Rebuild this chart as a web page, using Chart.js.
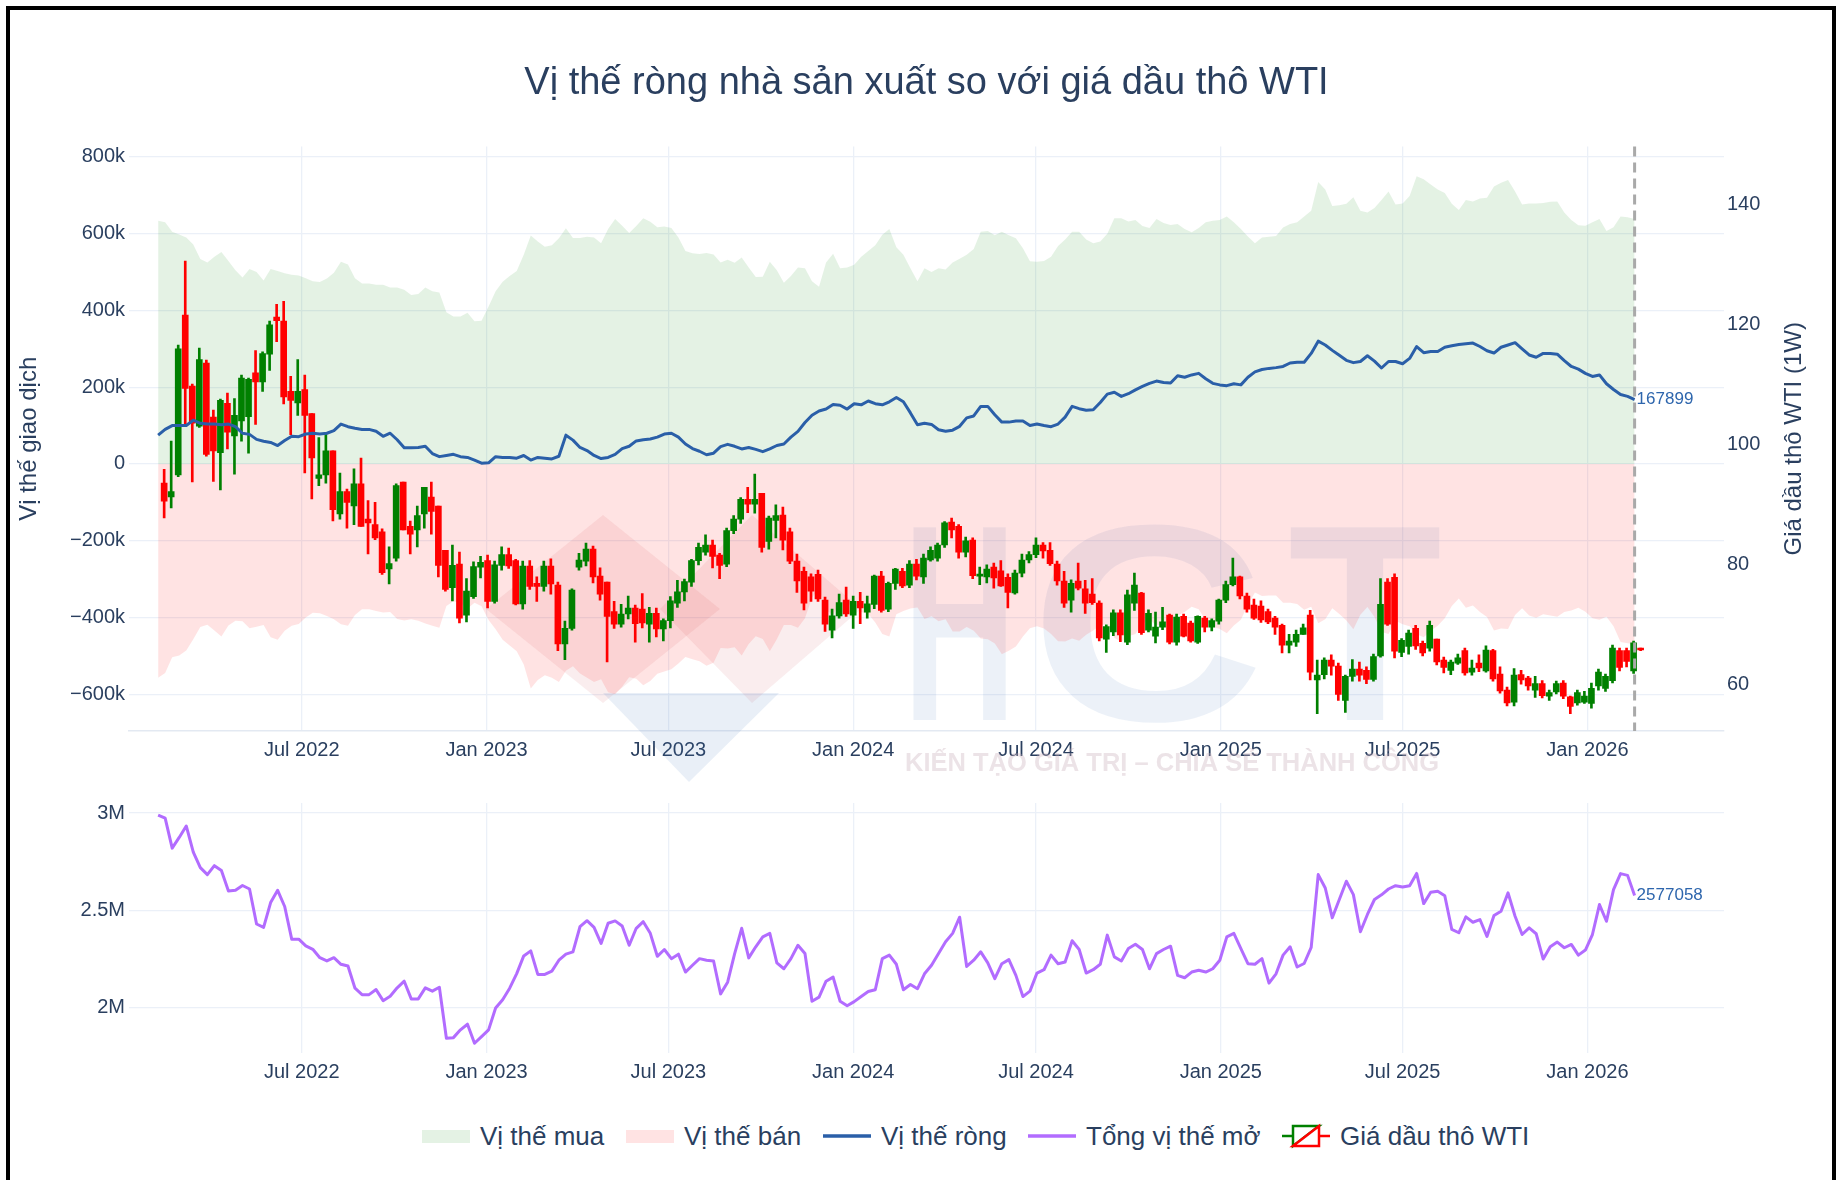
<!DOCTYPE html>
<html lang="vi">
<head>
<meta charset="utf-8">
<title>Vị thế ròng nhà sản xuất so với giá dầu thô WTI</title>
<script src="https://cdn.jsdelivr.net/npm/chart.js@4.4.1/dist/chart.umd.min.js"></script>
<style>
  html, body { margin: 0; padding: 0; background: #fff; }
  body { width: 1836px; height: 1180px; position: relative; overflow: hidden; font-family: "Liberation Sans", Arial, sans-serif; }
  #topChart { position: absolute; left: 0; top: 0; }
  #oiChart { position: absolute; left: 0; top: 780px; }
  .frame { position: absolute; left: 6px; top: 6px; width: 1830px; height: 1174px; box-sizing: border-box; border: 4px solid #000; border-bottom: none; pointer-events: none; }
  .legend { position: absolute; left: 0; top: 1119px; width: 1836px; height: 34px; }
  .legend .item { position: absolute; top: 0; height: 34px; display: flex; align-items: center; white-space: nowrap; color: #2a3f5f; font-size: 26px; }
  .legend .item canvas { margin-right: 9px; }
</style>
</head>
<body>
<canvas id="topChart" width="1836" height="790"></canvas>
<canvas id="oiChart" width="1836" height="330"></canvas>
<div class="legend" id="legend"></div>
<div class="frame"></div>
<script>
`use strict`

// ---- dates ----
const firstReport = '2022-02-08';   // first weekly COT report (Tuesday)
const firstCandle = '2022-02-14';   // first weekly WTI candle (Monday)
const xRange = ['2022-01-10', '2026-05-17'];
const tickDates = ['2022-07-01', '2023-01-01', '2023-07-01', '2024-01-01', '2024-07-01', '2025-01-01', '2025-07-01', '2026-01-01'];
const tickLabels = ['Jul 2022', 'Jan 2023', 'Jul 2023', 'Jan 2024', 'Jul 2024', 'Jan 2025', 'Jul 2025', 'Jan 2026'];

// ---- producer positions (thousand contracts) ----
const longPos = [634,630,605,598,590,572,534,525,540,552,529,505,486,508,500,478,508,503,497,493,491,484,476,474,483,498,527,520,484,470,470,467,467,460,460,454,440,443,460,450,447,395,384,384,
  394,372,373,410,450,475,490,503,545,595,580,566,570,588,614,589,589,592,590,575,612,638,621,602,620,640,631,617,619,615,590,555,549,547,550,546,525,532,524,538,512,487,488,
  527,505,472,490,512,510,476,462,525,548,510,512,519,540,555,570,597,612,565,545,510,476,510,500,510,507,525,535,545,560,605,607,596,605,596,588,562,528,527,529,540,
  568,585,605,605,585,575,580,600,640,640,632,636,620,615,638,628,623,625,612,604,615,630,634,636,645,630,612,593,575,590,592,594,616,625,630,645,660,735,715,672,674,678,695,660,
  655,667,688,710,676,679,698,750,742,728,715,706,678,662,688,684,692,694,723,733,740,710,676,679,679,680,683,684,655,636,622,621,630,638,607,617,645,643,638];

const shortPos = [-557,-545,-504,-499,-486,-457,-425,-419,-434,-450,-421,-409,-410,-428,-424,-420,-452,-458,-435,-422,-417,-400,-388,-389,-396,-405,-418,-422,-394,-379,-379,-383,-387,-386,-404,-408,-405,-409,-416,-422,-427,-370,-358,-363,
  -377,-362,-371,-407,-431,-458,-473,-488,-523,-585,-563,-551,-557,-568,-539,-527,-546,-557,-568,-561,-595,-600,-581,-556,-560,-577,-566,-547,-541,-535,-520,-503,-509,-514,-526,-518,-480,-481,-478,-499,-469,-449,-456,
  -488,-457,-420,-420,-427,-402,-349,-324,-382,-393,-357,-369,-362,-386,-391,-413,-443,-450,-392,-383,-377,-374,-404,-397,-410,-405,-437,-437,-425,-435,-455,-457,-468,-496,-487,-476,-450,-428,-423,-429,-443,
  -462,-463,-455,-461,-445,-434,-420,-418,-453,-464,-449,-443,-418,-405,-422,-416,-412,-395,-386,-372,-379,-408,-424,-430,-441,-421,-406,-367,-335,-344,-343,-343,-362,-362,-365,-380,-372,-415,-405,-376,-391,-408,-431,-393,
  -373,-399,-438,-443,-409,-418,-423,-444,-452,-435,-422,-402,-370,-351,-375,-369,-386,-399,-434,-429,-430,-394,-376,-395,-401,-392,-395,-398,-386,-382,-375,-385,-402,-406,-398,-423,-464,-467,-470];

const netPos = [75,90,100,100,100,114,106,104,104,102,104,97,80,77,64,59,56,48,61,72,71,78,80,78,80,87,104,97,93,90,90,85,72,80,63,42,42,43,46,27,19,22,25,19,
  17,10,2,3,19,17,17,15,22,10,17,15,13,20,75,62,43,35,22,14,17,25,40,46,60,63,65,70,78,80,70,52,40,33,24,28,45,51,46,39,43,38,32,
  39,48,52,70,85,108,127,138,143,155,153,143,157,154,164,157,154,162,173,162,133,102,106,103,89,85,88,98,120,125,150,150,128,109,109,112,112,100,104,100,97,
  104,122,150,144,140,141,160,182,187,176,183,193,202,210,216,212,211,230,226,232,236,222,210,206,204,209,206,226,240,246,249,251,254,263,265,265,288,320,310,296,283,270,264,267,
  282,268,250,267,267,261,275,306,290,293,293,304,308,311,313,315,306,295,289,304,310,316,300,284,278,288,288,286,269,254,247,236,228,232,209,194,181,176,167.899];

// ---- open interest (million contracts) ----
const openInt = [2.99,2.974,2.82,2.875,2.934,2.80,2.72,2.684,2.73,2.705,2.60,2.603,2.628,2.61,2.43,2.413,2.54,2.603,2.52,2.352,2.352,2.318,2.30,2.257,2.24,2.257,2.223,2.214,2.10,2.067,2.067,2.093,2.036,2.059,2.102,2.136,2.045,2.045,2.102,2.085,2.105,1.843,1.846,1.886,1.915,1.817,1.851,1.886,1.998,2.041,2.10,2.175,2.266,2.292,2.171,2.171,
  2.188,2.244,2.275,2.287,2.416,2.447,2.413,2.33,2.434,2.446,2.42,2.321,2.408,2.442,2.382,2.264,2.299,2.252,2.275,2.183,2.218,2.252,2.244,2.24,2.071,2.131,2.278,2.408,2.256,2.313,2.364,2.382,2.23,2.20,2.252,2.321,2.278,2.033,2.054,2.136,2.157,2.033,2.01,2.031,2.057,2.083,2.092,2.252,2.27,2.223,2.092,2.119,2.097,2.174,2.218,2.278,2.339,2.382,2.465,2.212,2.244,2.287,2.23,2.149,2.226,2.247,2.166,2.057,2.085,2.178,2.195,2.27,2.226,2.235,2.344,2.299,2.178,2.195,2.223,2.373,2.261,2.24,2.304,2.326,2.299,2.20,2.278,2.299,2.316,2.166,2.154,2.183,2.192,2.183,2.20,2.244,2.364,2.382,2.304,2.226,2.223,2.252,2.126,2.174,2.27,2.313,2.209,
  2.227,2.31,2.684,2.615,2.462,2.556,2.65,2.581,2.39,2.479,2.556,2.58,2.61,2.627,2.62,2.627,2.69,2.535,2.593,2.598,2.575,2.402,2.385,2.467,2.439,2.453,2.366,2.474,2.496,2.59,2.47,2.376,2.41,2.38,2.25,2.313,2.337,2.308,2.325,2.27,2.296,2.376,2.53,2.444,2.607,2.689,2.68,2.577058];

// ---- WTI weekly candles (USD) ----
const wtiOpen = [93.5,91.2,94.9,121.5,109.7,103.0,113.5,104.5,98.6,106.8,101.4,103.9,104.6,111.9,110.4,115.0,121.2,120.5,108.8,106.9,
  109.1,105.1,94.3,94.9,98.9,88.4,92.1,89.7,93.4,87.5,86.6,85.4,79.2,81.0,93.7,86.3,85.7,88.4,91.2,89.7,
  82.3,76.1,80.0,71.5,74.6,79.5,80.6,73.8,79.8,81.6,80.6,73.4,79.7,76.8,76.3,79.7,76.5,66.7,69.3,79.5,
  80.5,82.5,78.0,77.0,72.1,70.0,71.7,72.7,72.5,70.0,71.8,69.2,70.6,73.5,75.4,77.0,80.6,82.0,83.2,81.5,
  80.0,85.6,87.5,90.8,90.0,91.8,83.8,87.3,88.2,85.4,80.5,78.8,77.9,78.3,74.0,69.0,71.4,74.0,71.5,73.8,
  72.0,73.3,78.0,72.5,76.8,78.8,76.5,80.0,77.9,80.7,81.0,83.2,87.0,86.3,82.0,84.0,78.0,77.9,79.5,78.9,
  77.8,75.2,78.5,80.7,81.6,83.2,82.3,80.0,77.2,74.0,77.2,75.9,75.0,73.5,67.5,68.7,71.9,67.0,73.5,75.2,
  69.0,68.0,69.5,71.5,67.0,71.3,70.2,67.0,71.0,69.5,70.5,74.0,76.6,77.9,74.7,73.2,73.0,72.1,71.0,69.8,
  66.5,67.0,68.3,71.5,60.7,61.6,64.0,63.0,57.3,61.3,62.5,62.3,60.8,64.7,77.0,77.8,65.3,66.3,69.3,66.8,
  66.0,67.5,64.0,62.3,63.5,65.6,62.0,63.5,62.2,65.6,61.7,59.0,57.0,61.6,61.0,59.0,60.1,58.0,58.7,60.2,
  57.9,56.9,57.0,56.8,59.7,59.3,60.6,65.6,65.6,62.2,66.0];
const wtiHigh = [95.8,100.5,116.5,130.5,110.0,116.0,114.0,105.7,107.5,108.5,107.6,111.5,111.0,115.6,115.4,120.5,123.3,123.8,111.3,114.1,
  111.5,105.1,101.1,101.7,98.9,95.2,92.5,95.9,97.7,90.6,90.3,85.9,82.9,93.4,93.7,87.2,89.7,92.8,93.7,89.7,
  82.3,83.2,82.0,77.6,80.4,81.3,81.5,80.5,82.9,82.7,80.8,80.5,80.6,77.9,80.5,80.9,77.0,70.5,75.9,81.8,
  83.5,83.0,79.4,77.0,73.8,73.3,74.7,73.2,75.1,72.8,72.7,70.9,74.6,77.3,77.5,80.8,83.5,84.9,84.0,81.8,
  86.0,88.1,91.1,92.8,95.0,91.8,88.0,89.9,89.5,86.0,81.7,79.5,78.4,79.0,74.5,72.5,75.0,76.2,74.7,75.3,
  74.7,78.2,78.8,77.0,79.3,79.3,80.6,80.8,81.7,82.9,83.5,87.1,87.7,86.6,84.5,84.4,79.5,79.9,80.2,80.6,
  78.4,79.0,81.7,82.1,84.4,83.6,83.6,80.5,78.8,77.4,80.2,77.3,77.6,73.9,69.9,72.4,72.4,75.7,78.5,75.3,
  72.4,72.0,72.8,71.7,71.7,71.7,70.5,71.4,71.3,70.9,74.2,77.2,81.0,78.0,75.2,74.2,73.9,72.5,71.3,70.0,
  68.3,69.0,70.0,72.3,64.0,64.4,64.9,63.5,61.5,64.1,63.7,62.9,65.0,77.6,77.6,78.4,67.6,69.0,69.8,67.2,
  70.5,67.5,64.5,64.0,65.0,66.0,64.0,64.9,66.4,65.8,62.9,59.5,62.6,62.3,61.3,61.3,60.6,59.0,60.5,60.6,
  58.0,59.0,58.8,60.2,62.5,61.7,66.5,66.0,66.0,67.2,66.0];
const wtiLow = [87.7,89.4,94.6,103.4,93.7,102.8,98.0,93.8,92.4,99.2,95.0,100.5,98.5,103.3,108.8,112.3,117.1,106.7,101.6,104.8,
  95.2,90.9,93.1,93.5,87.2,87.5,86.0,86.6,86.3,81.7,84.1,78.3,76.7,80.5,85.7,81.7,82.9,86.0,85.0,77.9,
  75.5,73.9,70.2,70.4,74.3,77.7,72.7,73.5,79.0,79.3,73.2,72.5,75.8,73.8,75.5,75.0,65.6,64.1,69.0,79.0,
  79.7,76.9,74.0,63.7,69.3,69.5,70.9,67.0,69.4,67.0,67.9,67.2,69.4,72.8,73.9,76.3,79.9,81.5,79.4,77.6,
  79.6,85.1,86.8,88.6,88.5,82.0,82.5,84.4,82.4,80.1,75.3,72.4,73.8,73.8,68.8,67.7,71.0,71.3,69.3,70.1,
  71.0,72.6,72.0,72.1,75.8,76.1,76.1,77.4,76.8,80.5,80.5,82.8,84.4,81.0,81.2,77.6,76.6,76.9,76.0,76.3,
  72.7,75.0,77.9,80.2,81.1,81.0,79.8,76.5,72.8,72.0,75.7,71.8,73.3,67.2,65.3,68.1,67.1,66.6,72.3,68.3,
  68.7,66.9,69.1,66.7,66.5,67.9,67.0,66.8,68.7,68.9,70.0,73.6,76.4,74.2,72.0,70.8,70.3,70.1,68.3,65.2,
  65.2,66.3,68.3,60.7,55.1,60.9,61.5,57.3,55.3,60.5,60.5,60.1,60.5,64.5,69.8,64.4,64.6,65.0,65.8,64.7,
  65.5,63.2,61.9,61.6,63.3,61.5,61.5,62.1,62.0,60.5,58.5,56.4,56.4,60.0,59.0,57.8,57.7,57.3,58.4,57.6,
  55.1,56.5,56.8,56.0,59.0,58.8,60.2,62.2,62.9,61.8,65.6];
const wtiClose = [90.5,92.1,115.9,109.3,103.5,114.1,98.3,98.9,107.3,102.0,104.8,111.0,110.8,110.4,115.1,119.9,120.6,107.9,107.3,108.8,
  104.8,97.7,94.9,98.9,89.1,92.1,90.3,93.4,86.3,86.9,84.4,78.6,80.1,93.1,85.7,85.0,88.1,92.8,88.8,79.8,
  75.8,79.8,71.0,75.5,79.6,80.3,73.8,79.9,81.6,79.7,73.4,79.7,76.3,76.3,79.7,76.7,66.7,69.3,75.7,80.7,
  82.5,77.9,75.0,71.3,70.0,71.7,72.7,70.1,70.2,71.8,69.2,70.6,73.9,75.4,77.1,80.6,82.8,83.2,81.3,79.8,
  85.6,87.5,90.8,90.0,90.8,82.8,87.7,88.1,84.0,80.5,77.2,73.5,75.5,74.2,70.0,71.4,73.6,71.7,73.8,72.7,
  73.4,78.0,72.3,76.8,79.2,76.4,80.0,78.0,81.0,82.3,83.2,86.9,85.7,82.0,83.9,78.1,78.3,79.2,77.7,76.4,
  75.3,78.5,80.7,81.6,83.2,82.2,80.1,77.2,73.5,76.8,76.0,73.5,73.6,67.7,69.6,71.9,68.2,74.9,76.5,68.6,
  71.8,69.5,70.4,67.0,71.2,68.0,67.2,71.3,69.5,70.6,74.0,76.6,77.9,74.7,72.5,71.0,70.7,70.4,69.5,66.5,
  67.2,68.3,69.4,62.0,61.5,64.0,63.0,58.3,61.3,62.5,61.5,60.8,64.6,73.3,70.0,65.5,67.3,68.5,66.4,65.2,
  69.8,63.7,62.8,63.7,64.4,61.9,62.7,62.7,65.7,60.9,58.9,56.9,61.5,60.7,59.7,60.1,58.1,58.6,60.1,58.0,
  56.3,58.6,58.0,59.3,62.0,61.3,66.0,62.8,63.8,66.9,65.7];

// ---- axis ticks ----
const posTicks = [-600, -400, -200, 0, 200, 400, 600, 800];
const priceTicks = [60, 80, 100, 120, 140];
const oiTicks = [2, 2.5, 3];

// ---------------------------------------------------------------
const fontFamily = '"Liberation Sans", Arial, sans-serif';
const textColor = '#2a3f5f';
const gridColor = '#ebf0f8';
Chart.defaults.font.family = fontFamily;
Chart.defaults.color = textColor;

const dayZero = Date.UTC(2022, 0, 1);
function dayNum(s) {
  const p = s.split('-');
  return (Date.UTC(+p[0], +p[1] - 1, +p[2]) - dayZero) / 86400000;
}
const reportDays = longPos.map((v, i) => dayNum(firstReport) + 7 * i);
const candleDays = wtiOpen.map((v, k) => dayNum(firstCandle) + 7 * k);
const tickDays = tickDates.map(dayNum);
const lastDay = reportDays[reportDays.length - 1];

const xAxis = (height, showBorder) => ({
  type: 'linear',
  min: dayNum(xRange[0]),
  max: dayNum(xRange[1]),
  offset: false,
  grid: { color: gridColor, lineWidth: 1.3, drawTicks: false, offset: false },
  border: { display: showBorder, color: '#e3e9f2', width: 1.5 },
  afterBuildTicks: (scale) => { scale.ticks = tickDays.map(v => ({ value: v })); },
  afterFit: (scale) => { scale.height = height; },
  ticks: {
    padding: 7,
    maxRotation: 0,
    font: { size: 20 },
    color: textColor,
    callback: (v) => tickLabels[tickDays.indexOf(v)]
  }
});

// candle colours
const upColor = '#008000';
const downColor = '#ff0000';
const candleColors = wtiClose.map((c, k) => c >= wtiOpen[k] ? upColor : downColor);

// value label at the last point of a series
const lastLabel = {
  id: 'lastLabel',
  afterDatasetsDraw(chart, args, opts) {
    const meta = chart.getDatasetMeta(opts.dataset);
    const pt = meta.data[meta.data.length - 1];
    const ctx = chart.ctx;
    ctx.save();
    ctx.font = '17px ' + fontFamily;
    ctx.fillStyle = opts.color;
    ctx.textAlign = 'left';
    ctx.textBaseline = 'middle';
    ctx.fillText(opts.text, pt.x + 2, pt.y);
    ctx.restore();
  }
};

// dashed marker at last report date + right axis title
const topDecor = {
  id: 'topDecor',
  afterDatasetsDraw(chart) {
    const ctx = chart.ctx;
    const area = chart.chartArea;
    const x = chart.scales.x.getPixelForValue(lastDay);
    ctx.save();
    ctx.strokeStyle = '#a9a9a9';
    ctx.lineWidth = 3;
    ctx.setLineDash([10, 6]);
    ctx.beginPath();
    ctx.moveTo(x, area.top);
    ctx.lineTo(x, area.bottom);
    ctx.stroke();
    ctx.restore();

    ctx.save();
    ctx.translate(1794, (area.top + area.bottom) / 2);
    ctx.rotate(-Math.PI / 2);
    ctx.font = '24px ' + fontFamily;
    ctx.fillStyle = textColor;
    ctx.textAlign = 'center';
    ctx.textBaseline = 'middle';
    ctx.fillText('Giá dầu thô WTI (1W)', 0, 0);
    ctx.restore();
  }
};

// faint HCT logo watermark
const watermark = {
  id: 'watermark',
  beforeDatasetsDraw(chart) {
    const ctx = chart.ctx;
    ctx.save();
    ctx.fillStyle = 'rgba(205,90,100,0.11)';
    ctx.beginPath();
    ctx.moveTo(486, 609); ctx.lineTo(603, 515); ctx.lineTo(720, 609); ctx.lineTo(603, 703); ctx.closePath();
    ctx.fill();
    ctx.beginPath();
    ctx.moveTo(660, 609); ctx.lineTo(752, 515); ctx.lineTo(861, 609); ctx.lineTo(752, 703); ctx.closePath();
    ctx.fill();
    ctx.fillStyle = 'rgba(70,120,190,0.12)';
    ctx.beginPath();
    ctx.moveTo(603, 693); ctx.lineTo(779, 693); ctx.lineTo(689, 782); ctx.closePath();
    ctx.fill();

    ctx.font = 'bold 280px ' + fontFamily;
    ctx.textBaseline = 'alphabetic';
    ctx.fillStyle = 'rgba(70,120,190,0.10)';
    const letters = [['H', 903, 0.56], ['C', 1030, 1.16], ['T', 1288, 0.9]];
    letters.forEach(([ch, lx, sx]) => {
      ctx.save();
      ctx.translate(lx, 720);
      ctx.scale(sx, 1);
      ctx.fillText(ch, 0, 0);
      ctx.restore();
    });
    ctx.font = 'bold 25.5px ' + fontFamily;
    ctx.fillStyle = 'rgba(200,175,185,0.35)';
    ctx.fillText('KIẾN TẠO GIÁ TRỊ – CHIA SẺ THÀNH CÔNG', 905, 771);
    ctx.restore();
  }
};

// ---- top chart: positions + WTI candles ----
new Chart(document.getElementById('topChart'), {
  type: 'bar',
  data: {
    datasets: [
      {
        type: 'line', label: 'Vị thế ròng',
        data: netPos.map((v, i) => ({ x: reportDays[i], y: v })),
        borderColor: '#2a5fa8', borderWidth: 3, pointRadius: 0, tension: 0,
        borderJoinStyle: 'round', yAxisID: 'y', order: 0
      },
      {
        type: 'bar', label: 'body',
        data: wtiOpen.map((o, k) => ({ x: candleDays[k], y: [o, wtiClose[k]] })),
        backgroundColor: candleColors, barThickness: 6, minBarLength: 2, grouped: false,
        yAxisID: 'y2', order: 1
      },
      {
        type: 'bar', label: 'wick',
        data: wtiLow.map((l, k) => ({ x: candleDays[k], y: [l, wtiHigh[k]] })),
        backgroundColor: candleColors, barThickness: 2, grouped: false,
        yAxisID: 'y2', order: 2
      },
      {
        type: 'line', label: 'Vị thế mua',
        data: longPos.map((v, i) => ({ x: reportDays[i], y: v })),
        fill: 'origin', backgroundColor: 'rgba(0,128,0,0.105)', borderColor: 'rgba(0,0,0,0)',
        borderWidth: 0, pointRadius: 0, tension: 0, yAxisID: 'y', order: 3
      },
      {
        type: 'line', label: 'Vị thế bán',
        data: shortPos.map((v, i) => ({ x: reportDays[i], y: v })),
        fill: 'origin', backgroundColor: 'rgba(255,0,0,0.11)', borderColor: 'rgba(0,0,0,0)',
        borderWidth: 0, pointRadius: 0, tension: 0, yAxisID: 'y', order: 4
      }
    ]
  },
  options: {
    responsive: false,
    animation: false,
    devicePixelRatio: 1,
    layout: { padding: { left: 0, right: 0, top: 0, bottom: 0 } },
    plugins: {
      legend: { display: false },
      tooltip: { enabled: false },
      title: {
        display: true,
        fullSize: false,
        text: 'Vị thế ròng nhà sản xuất so với giá dầu thô WTI',
        color: textColor,
        font: { size: 38, weight: 'normal' },
        padding: { top: 61, bottom: 40 }
      },
      lastLabel: { dataset: 0, text: '167899', color: '#2e66ad' }
    },
    scales: {
      x: xAxis(59, true),
      y: {
        position: 'left',
        min: -696, max: 827,
        grid: { color: gridColor, lineWidth: 1.3, drawTicks: false },
        border: { display: false },
        afterBuildTicks: (scale) => { scale.ticks = posTicks.map(v => ({ value: v })); },
        afterFit: (scale) => { scale.width = 129; },
        ticks: {
          padding: 4,
          font: { size: 20 },
          color: textColor,
          callback: (v) => v === 0 ? '0' : (v < 0 ? '\u2212' : '') + Math.abs(v) + 'k'
        },
        title: {
          display: true, text: 'Vị thế giao dịch', color: textColor,
          font: { size: 24 }, padding: { top: 15, bottom: 0 }
        }
      },
      y2: {
        position: 'right',
        min: 52.2, max: 149.6,
        grid: { display: false, drawTicks: false },
        border: { display: false },
        afterBuildTicks: (scale) => { scale.ticks = priceTicks.map(v => ({ value: v })); },
        afterFit: (scale) => { scale.width = 112; },
        ticks: { padding: 3, font: { size: 20 }, color: textColor }
      }
    }
  },
  plugins: [watermark, lastLabel, topDecor]
});

// ---- bottom chart: open interest ----
new Chart(document.getElementById('oiChart'), {
  type: 'line',
  data: {
    datasets: [{
      label: 'Tổng vị thế mở',
      data: openInt.map((v, i) => ({ x: reportDays[i], y: v })),
      borderColor: '#b26cff', borderWidth: 3, pointRadius: 0, tension: 0,
      borderJoinStyle: 'round'
    }]
  },
  options: {
    responsive: false,
    animation: false,
    devicePixelRatio: 1,
    layout: { padding: { left: 0, right: 112, top: 23, bottom: 0 } },
    plugins: {
      legend: { display: false },
      tooltip: { enabled: false },
      lastLabel: { dataset: 0, text: String(Math.round(openInt[openInt.length - 1] * 1e6)), color: '#2e66ad' }
    },
    scales: {
      x: xAxis(57, false),
      y: {
        min: 1.767, max: 3.052,
        grid: { color: gridColor, lineWidth: 1.3, drawTicks: false },
        border: { display: false },
        afterBuildTicks: (scale) => { scale.ticks = oiTicks.map(v => ({ value: v })); },
        afterFit: (scale) => { scale.width = 129; },
        ticks: { padding: 4, font: { size: 20 }, color: textColor, callback: (v) => v + 'M' }
      }
    }
  },
  plugins: [lastLabel]
});

// ---- legend ----
function swatch(kind) {
  const c = document.createElement('canvas');
  c.width = 50; c.height = 30;
  const g = c.getContext('2d');
  if (kind === 'long' || kind === 'short') {
    g.fillStyle = kind === 'long' ? 'rgba(0,128,0,0.105)' : 'rgba(255,0,0,0.11)';
    g.fillRect(1, 9, 48, 13);
  } else if (kind === 'net' || kind === 'oi') {
    g.strokeStyle = kind === 'net' ? '#2a5fa8' : '#b26cff';
    g.lineWidth = 3.5;
    g.beginPath(); g.moveTo(1, 15); g.lineTo(49, 15); g.stroke();
  } else {
    g.lineWidth = 2.5;
    g.strokeStyle = upColor; g.fillStyle = 'rgba(255,255,255,0.8)';
    g.beginPath(); g.moveTo(1, 15); g.lineTo(12, 15);
    g.moveTo(12, 25); g.lineTo(12, 5); g.lineTo(38, 5); g.closePath();
    g.fill(); g.stroke();
    g.strokeStyle = downColor;
    g.beginPath(); g.moveTo(49, 15); g.lineTo(38, 15);
    g.moveTo(38, 5); g.lineTo(38, 25); g.lineTo(12, 25); g.closePath();
    g.fill(); g.stroke();
  }
  return c;
}
const legendItems = [
  { label: 'Vị thế mua', kind: 'long', left: 421 },
  { label: 'Vị thế bán', kind: 'short', left: 625 },
  { label: 'Vị thế ròng', kind: 'net', left: 822 },
  { label: 'Tổng vị thế mở', kind: 'oi', left: 1027 },
  { label: 'Giá dầu thô WTI', kind: 'candle', left: 1281 }
];
const legendEl = document.getElementById('legend');
legendItems.forEach(it => {
  const d = document.createElement('div');
  d.className = 'item';
  d.style.left = it.left + 'px';
  d.appendChild(swatch(it.kind));
  const s = document.createElement('span');
  s.textContent = it.label;
  d.appendChild(s);
  legendEl.appendChild(d);
});
</script>
</body>
</html>
